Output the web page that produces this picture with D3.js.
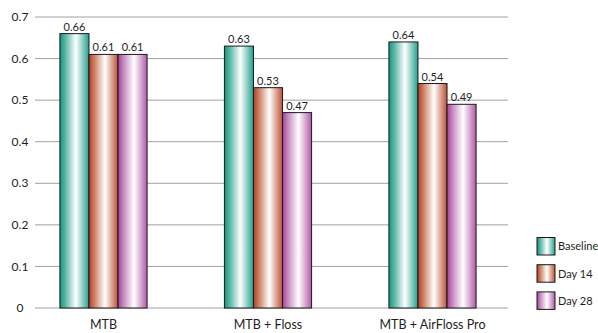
<!DOCTYPE html>
<html>
<head>
<meta charset="utf-8">
<script src="https://cdn.jsdelivr.net/npm/d3@7"></script>
<style>
  body { margin: 0; background: #fff; }
  svg text { font-family: "Lato", "Open Sans", sans-serif; fill: #1e1e1e; }
</style>
</head>
<body>
<svg id="chart" width="598" height="333"></svg>
<script>
// data
var categories = ["MTB", "MTB + Floss", "MTB + AirFloss Pro"];
var seriesNames = ["Baseline", "Day 14", "Day 28"];
var baseline = [0.66, 0.63, 0.64];
var day14 = [0.61, 0.53, 0.54];
var day28 = [0.61, 0.47, 0.49];
var yTicks = [0, 0.1, 0.2, 0.3, 0.4, 0.5, 0.6, 0.7];

var seriesValues = [baseline, day14, day28];
var colors = [
  { edge: "#14967f", mid: "#55b6a5", right: "#22a08d" },
  { edge: "#b23f24", mid: "#cd7d61", right: "#bd5033" },
  { edge: "#a3409a", mid: "#c687c0", right: "#b259a8" }
];

var svg = d3.select("#chart");

var y = d3.scaleLinear().domain([0, 0.7]).range([308, 17]);
var x0 = d3.scaleBand().domain(categories).range([21.25, 514.75])
  .paddingInner(0.47).paddingOuter(0.235);
var x1 = d3.scaleBand().domain(seriesNames).range([0, x0.bandwidth()]);

// gradients
var defs = svg.append("defs");
colors.forEach(function (c, i) {
  var g = defs.append("linearGradient")
    .attr("id", "grad" + i)
    .attr("x1", "0%").attr("x2", "100%").attr("y1", "0%").attr("y2", "0%");
  g.append("stop").attr("offset", "0%").attr("stop-color", c.edge);
  g.append("stop").attr("offset", "18%").attr("stop-color", c.mid);
  g.append("stop").attr("offset", "55%").attr("stop-color", "#ffffff");
  g.append("stop").attr("offset", "100%").attr("stop-color", c.right);
});

// gridlines
svg.append("g").selectAll("line")
  .data(yTicks)
  .enter().append("line")
  .attr("x1", 35).attr("x2", 508)
  .attr("y1", function (d) { return y(d); })
  .attr("y2", function (d) { return y(d); })
  .attr("stroke", "#a0a0a0")
  .attr("stroke-width", 1);

// y tick labels
svg.append("g").selectAll("text")
  .data(yTicks)
  .enter().append("text")
  .attr("x", 20)
  .attr("y", function (d) { return y(d); })
  .attr("dy", "0.35em")
  .attr("text-anchor", "middle")
  .attr("font-size", 12)
  .text(function (d) { return d === 0 ? "0" : d.toFixed(1); });

// bars
var groups = svg.append("g").selectAll("g")
  .data(categories)
  .enter().append("g")
  .attr("transform", function (d) { return "translate(" + x0(d) + ",0)"; });

groups.selectAll("rect")
  .data(function (d, ci) {
    return seriesNames.map(function (s, si) { return { s: s, si: si, v: seriesValues[si][ci] }; });
  })
  .enter().append("rect")
  .attr("x", function (d) { return x1(d.s); })
  .attr("width", x1.bandwidth())
  .attr("y", function (d) { return y(d.v); })
  .attr("height", function (d) { return y(0) - y(d.v); })
  .attr("fill", function (d) { return "url(#grad" + d.si + ")"; })
  .attr("stroke", "#1a1a1a")
  .attr("stroke-width", 1);

groups.selectAll("text")
  .data(function (d, ci) {
    return seriesNames.map(function (s, si) { return { s: s, v: seriesValues[si][ci] }; });
  })
  .enter().append("text")
  .attr("x", function (d) { return x1(d.s) + x1.bandwidth() / 2; })
  .attr("y", function (d) { return y(d.v) - 3; })
  .attr("text-anchor", "middle")
  .attr("font-size", 11)
  .text(function (d) { return d.v.toFixed(2); });

// category labels
svg.append("g").selectAll("text")
  .data(categories)
  .enter().append("text")
  .attr("x", function (d) { return x0(d) + x0.bandwidth() / 2; })
  .attr("y", 329)
  .attr("text-anchor", "middle")
  .attr("font-size", 12.5)
  .text(function (d) { return d; });

// legend
var legend = svg.append("g").selectAll("g")
  .data(seriesNames)
  .enter().append("g")
  .attr("transform", function (d, i) { return "translate(537," + (237.5 + i * 27.2) + ")"; });

legend.append("rect")
  .attr("width", 18).attr("height", 17.5)
  .attr("fill", function (d, i) { return "url(#grad" + i + ")"; })
  .attr("stroke", "#1a1a1a");

legend.append("text")
  .attr("x", 21).attr("y", 9)
  .attr("dy", "0.35em")
  .attr("font-size", 11)
  .text(function (d) { return d; });
</script>
</body>
</html>
